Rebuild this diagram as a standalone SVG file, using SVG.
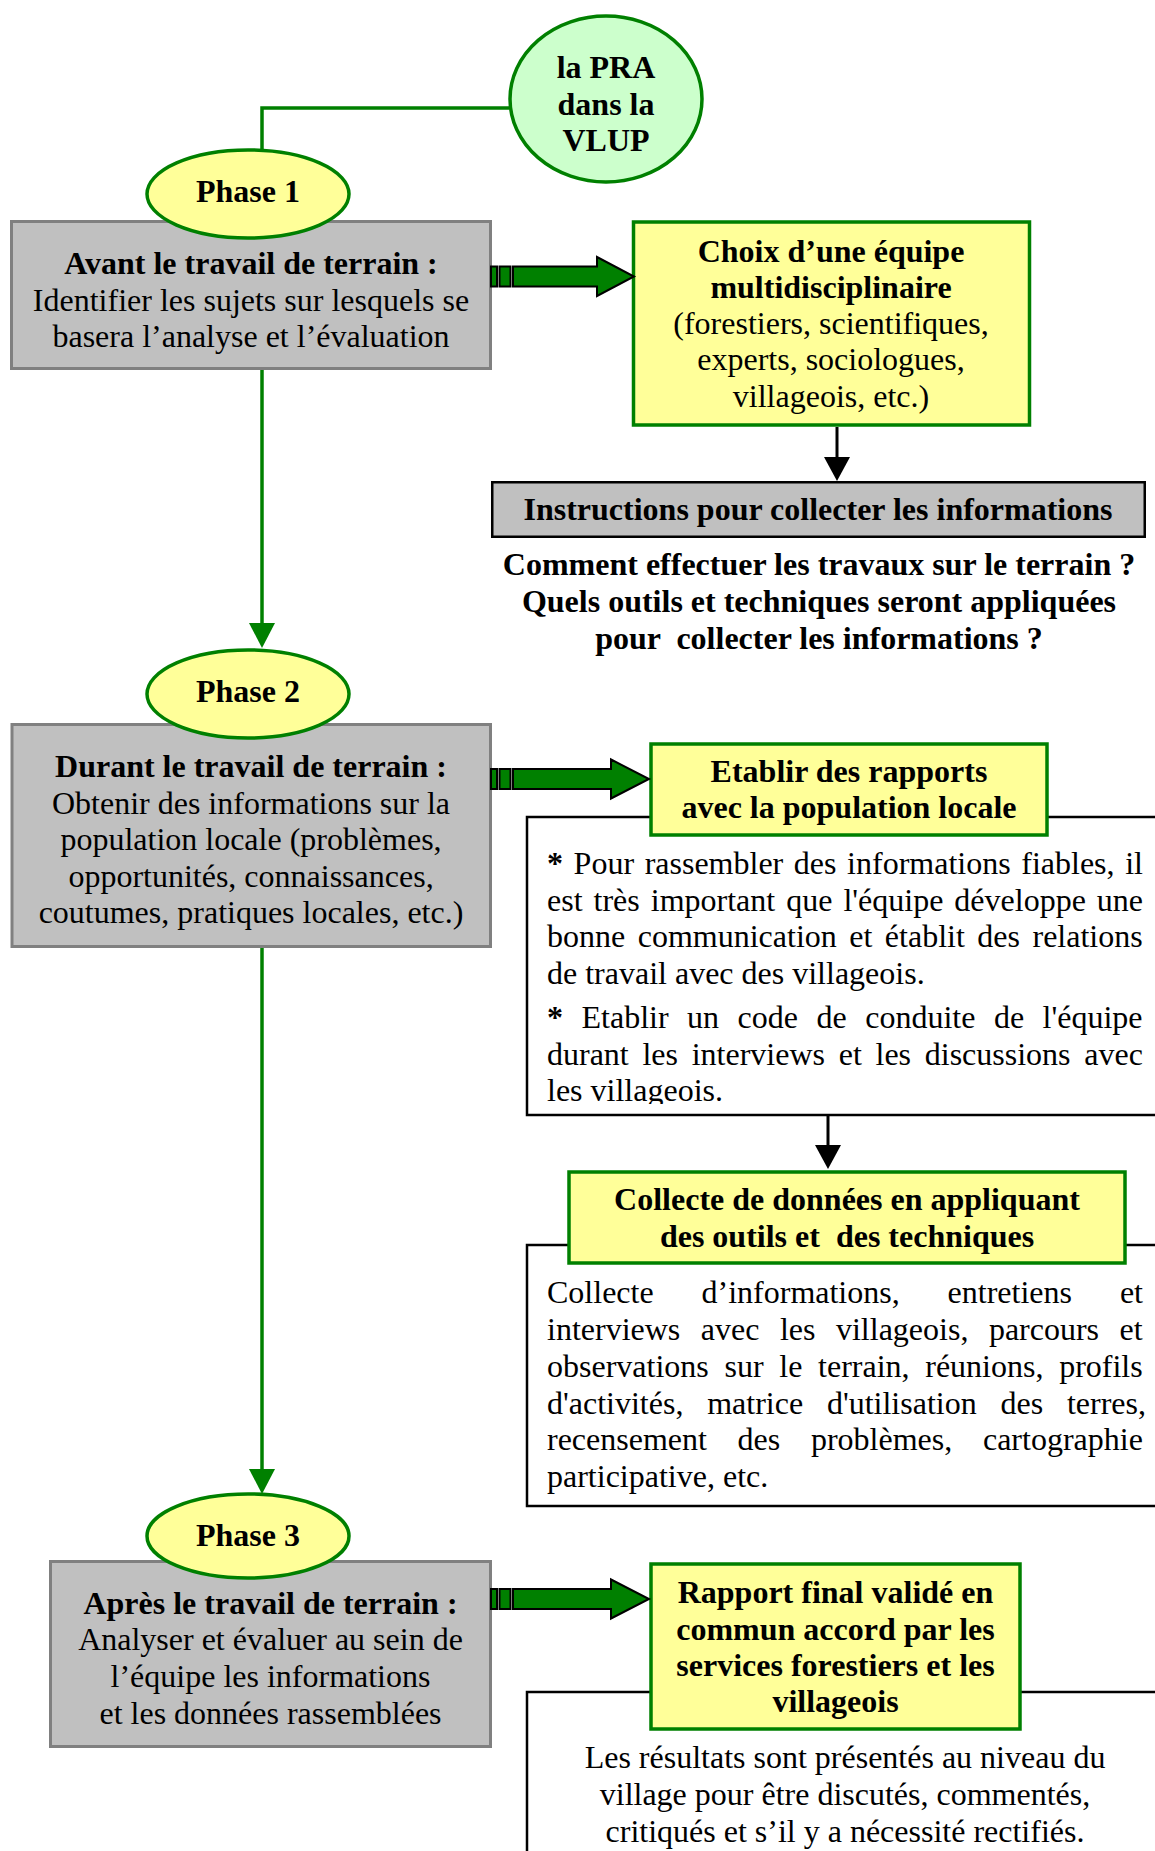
<svg xmlns="http://www.w3.org/2000/svg" width="1155" height="1851" viewBox="0 0 1155 1851">
<style>
.t{font-family:"Liberation Serif","Times New Roman",serif;font-size:32px;fill:#000}
.b{font-weight:bold}
.c{text-anchor:middle}
.pre{white-space:pre}
.phase{fill:#C0C0C0;stroke:#808080;stroke-width:3}
.yel{fill:#FFFF99;stroke:#008000;stroke-width:3.5}
.ell{fill:#FFFF99;stroke:#008000;stroke-width:3.5}
.circ{fill:#CCFFCC;stroke:#008000;stroke-width:3.5}
.frame{fill:#FFFFFF;stroke:#000;stroke-width:2.5}
.instr{fill:#C0C0C0;stroke:#000;stroke-width:2.5}
.gline{stroke:#008000;stroke-width:3.5;fill:none}
.bline{stroke:#000;stroke-width:3;fill:none}
.barrow{fill:#008000;stroke:#000;stroke-width:2}
</style>
<defs>
<marker id="ga" viewBox="0 0 25 26" refX="3" refY="13" markerWidth="25" markerHeight="26" markerUnits="userSpaceOnUse" orient="auto"><path d="M0,0 L25,13 L0,26 Z" fill="#008000"/></marker>
<marker id="ba" viewBox="0 0 24 26" refX="3" refY="13" markerWidth="24" markerHeight="26" markerUnits="userSpaceOnUse" orient="auto"><path d="M0,0 L24,13 L0,26 Z" fill="#000"/></marker>
<clipPath id="clip1"><rect x="527" y="817" width="640" height="287"/></clipPath>
</defs>

<g id="connectors">
<polyline class="gline" points="509,108 262,108 262,152"/>
<line class="gline" x1="262" y1="370" x2="262" y2="626" marker-end="url(#ga)"/>
<line class="gline" x1="262" y1="948" x2="262" y2="1472" marker-end="url(#ga)"/>
<line class="bline" x1="837" y1="427" x2="837" y2="460" marker-end="url(#ba)"/>
<line class="bline" x1="828" y1="1115" x2="828" y2="1148" marker-end="url(#ba)"/>
</g>

<g id="phase1-box">
<rect class="phase" x="11.5" y="221.5" width="479" height="147"/>
<text class="t c" x="251" y="274"><tspan class="b">Avant le travail de terrain :</tspan></text>
<text class="t c" x="251" y="310.5">Identifier les sujets sur lesquels se</text>
<text class="t c" x="251" y="347">basera l’analyse et l’évaluation</text>
</g>

<g id="pra">
<ellipse class="circ" cx="606" cy="99" rx="96" ry="83"/>
<text class="t b c" x="606" y="78">la PRA</text>
<text class="t b c" x="606" y="115">dans la</text>
<text class="t b c" x="606" y="151">VLUP</text>
</g>

<g id="phase1">
<ellipse class="ell" cx="248" cy="194" rx="101" ry="44"/>
<text class="t b c" x="248" y="202">Phase 1</text>
</g>

<g id="choix">
<rect class="yel" x="633.5" y="222" width="396" height="203"/>
<text class="t b c" x="831" y="262">Choix d’une équipe</text>
<text class="t b c" x="831" y="298">multidisciplinaire</text>
<text class="t c" x="831" y="334">(forestiers, scientifiques,</text>
<text class="t c" x="831" y="370">experts, sociologues,</text>
<text class="t c" x="831" y="407">villageois, etc.)</text>
</g>

<g id="instructions">
<rect class="instr" x="492.25" y="482.25" width="652.5" height="54.5"/>
<text class="t b c" x="818" y="520">Instructions pour collecter les informations</text>
</g>

<g id="questions">
<text class="t b c" x="819" y="575">Comment effectuer les travaux sur le terrain ?</text>
<text class="t b c" x="819" y="612">Quels outils et techniques seront appliquées</text>
<text class="t b c pre" x="819" y="649">pour  collecter les informations ?</text>
</g>

<g id="phase2-box">
<rect class="phase" x="12" y="724.5" width="478.5" height="222"/>
<text class="t b c" x="251" y="777">Durant le travail de terrain :</text>
<text class="t c" x="251" y="813.5">Obtenir des informations sur la</text>
<text class="t c" x="251" y="850">population locale (problèmes,</text>
<text class="t c" x="251" y="886.5">opportunités, connaissances,</text>
<text class="t c" x="251" y="923">coutumes, pratiques locales, etc.)</text>
</g>

<g id="phase2">
<ellipse class="ell" cx="248" cy="694" rx="101" ry="44"/>
<text class="t b c" x="248" y="702">Phase 2</text>
</g>

<g id="rapports-frame">
<rect class="frame" x="527" y="817" width="640" height="298"/>
<g clip-path="url(#clip1)">
<text class="t" x="547" y="874" word-spacing="2.6"><tspan class="b">*</tspan> Pour rassembler des informations fiables, il</text>
<text class="t" x="547" y="911" word-spacing="3">est très important que l'équipe développe une</text>
<text class="t" x="547" y="947" word-spacing="4.5">bonne communication et établit des relations</text>
<text class="t" x="547" y="984">de travail avec des villageois.</text>
<text class="t" x="547" y="1028" word-spacing="10.5"><tspan class="b">*</tspan> Etablir un code de conduite de l'équipe</text>
<text class="t" x="547" y="1065" word-spacing="5.7">durant les interviews et les discussions avec</text>
<text class="t" x="547" y="1101">les villageois.</text>
</g>
</g>

<g id="rapports">
<rect class="yel" x="651" y="744" width="396" height="91"/>
<text class="t b c" x="849" y="782">Etablir des rapports</text>
<text class="t b c" x="849" y="818">avec la population locale</text>
</g>

<g id="collecte-frame">
<rect class="frame" x="527" y="1245" width="640" height="261"/>
<text class="t" x="547" y="1303" word-spacing="39.9">Collecte d’informations, entretiens et</text>
<text class="t" x="547" y="1340" word-spacing="12.5">interviews avec les villageois, parcours et</text>
<text class="t" x="547" y="1377" word-spacing="7.7">observations sur le terrain, réunions, profils</text>
<text class="t" x="547" y="1413.5" word-spacing="15.8">d'activités, matrice d'utilisation des terres,</text>
<text class="t" x="547" y="1450" word-spacing="22.7">recensement des problèmes, cartographie</text>
<text class="t" x="547" y="1487">participative, etc.</text>
</g>

<g id="collecte">
<rect class="yel" x="569" y="1172" width="556" height="91"/>
<text class="t b c" x="847" y="1210">Collecte de données en appliquant</text>
<text class="t b c pre" x="847" y="1247">des outils et  des techniques</text>
</g>

<g id="phase3-box">
<rect class="phase" x="50.5" y="1561.5" width="440" height="185"/>
<text class="t b c" x="270.5" y="1614">Après le travail de terrain :</text>
<text class="t c" x="270.5" y="1650">Analyser et évaluer au sein de</text>
<text class="t c" x="270.5" y="1687">l’équipe les informations</text>
<text class="t c" x="270.5" y="1724">et les données rassemblées</text>
</g>

<g id="phase3">
<ellipse class="ell" cx="248" cy="1536" rx="101" ry="42"/>
<text class="t b c" x="248" y="1546">Phase 3</text>
</g>

<g id="final-frame">
<rect class="frame" x="527" y="1692" width="640" height="200"/>
<text class="t c" x="845" y="1768">Les résultats sont présentés au niveau du</text>
<text class="t c" x="845" y="1805">village pour être discutés, commentés,</text>
<text class="t c" x="845" y="1842">critiqués et s’il y a nécessité rectifiés.</text>
</g>

<g id="final">
<rect class="yel" x="651" y="1564" width="369" height="165"/>
<text class="t b c" x="835.5" y="1603">Rapport final validé en</text>
<text class="t b c" x="835.5" y="1640">commun accord par les</text>
<text class="t b c" x="835.5" y="1676">services forestiers et les</text>
<text class="t b c" x="835.5" y="1712">villageois</text>
</g>

<g id="block-arrows">
<rect class="barrow" x="491" y="266.5" width="6" height="20"/>
<rect class="barrow" x="499.5" y="266.5" width="11" height="20"/>
<path class="barrow" d="M513,266.5 H597 V257 L634,276.5 L597,296 V286.5 H513 Z"/>
<rect class="barrow" x="491" y="769" width="6" height="20"/>
<rect class="barrow" x="499.5" y="769" width="11" height="20"/>
<path class="barrow" d="M513,769 H611 V759.5 L649,779 L611,798.5 V789 H513 Z"/>
<rect class="barrow" x="491" y="1589" width="6" height="20"/>
<rect class="barrow" x="499.5" y="1589" width="11" height="20"/>
<path class="barrow" d="M513,1589 H611 V1579.5 L649,1599 L611,1618.5 V1609 H513 Z"/>
</g>
</svg>
